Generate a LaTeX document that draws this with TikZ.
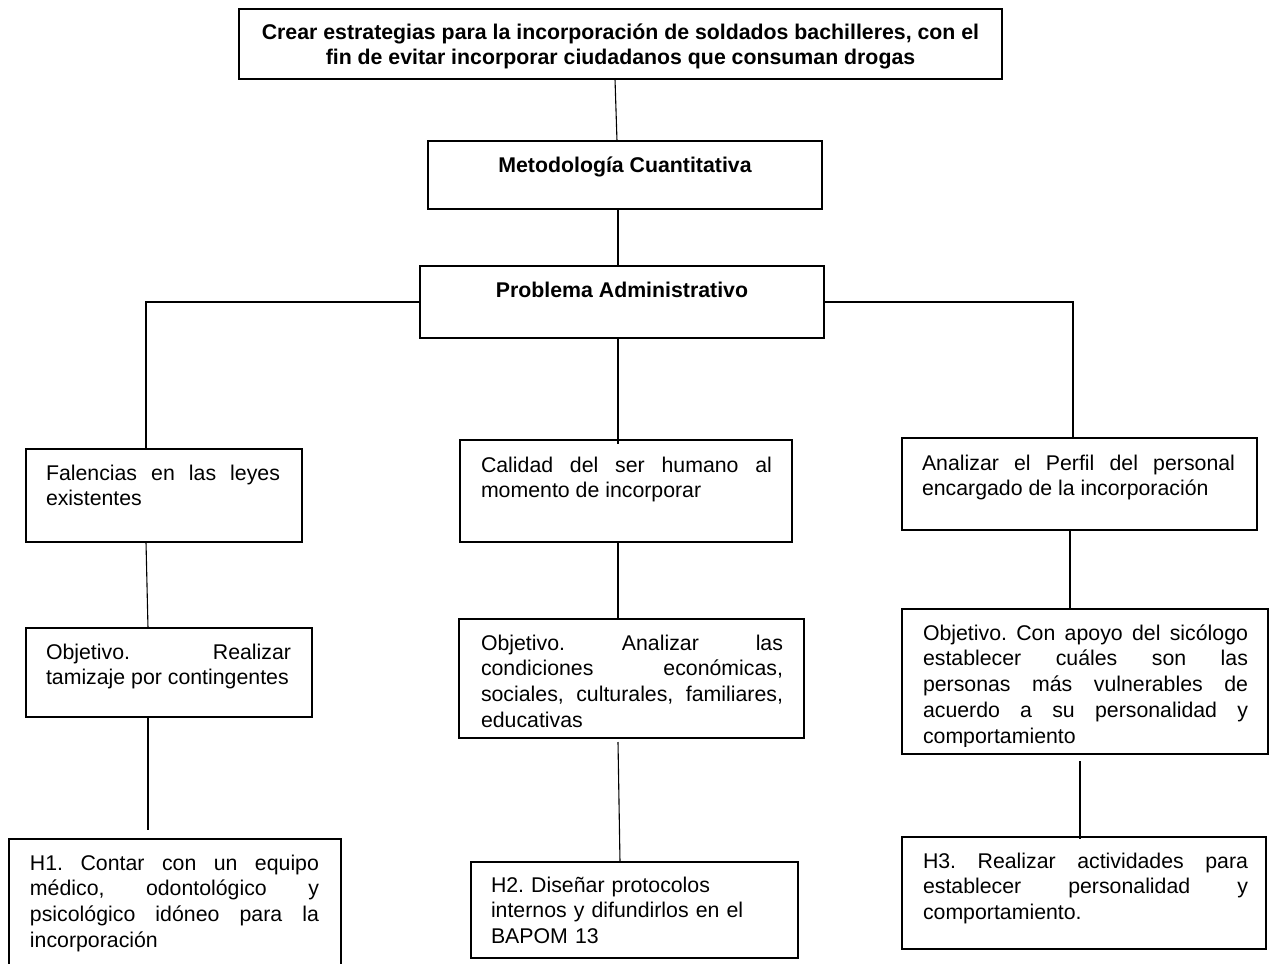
\documentclass[tikz,border=0pt]{standalone}
\usepackage{fontspec}
\setmainfont{Liberation Sans}[WordSpace={1,1,0}]
\hyphenpenalty=10000
\exhyphenpenalty=10000
\tolerance=10000
\hbadness=10000
\frenchspacing
\begin{document}
\begin{tikzpicture}[x=1pt,y=-1pt,
  box/.style={draw=black, line width=1.1pt, rectangle, inner sep=0pt, outer sep=0pt, fill=none},
  conn/.style={draw=black, line width=1.1pt},
  txt/.style={anchor=north west, inner sep=0pt, outer sep=0pt, text width=#1, align=justify,
    font=\fontsize{21.3}{25.8}\selectfont\frenchspacing},
  txtl/.style={anchor=north west, inner sep=0pt, outer sep=0pt, text width=#1, align=left,
    font=\fontsize{21.3}{25.8}\selectfont\frenchspacing},
  bold/.style={inner sep=0pt, outer sep=0pt, font=\fontsize{21.3}{25}\selectfont\bfseries}]
\useasboundingbox[fill=white] (0,0) rectangle (1270,964);
\clip (0,0) rectangle (1270,964);

% boxes
\node[box, minimum width=763pt, minimum height=70pt] (top) at (620.5,44) {};
\node[box, minimum width=394pt, minimum height=68pt] (meto) at (625,175) {};
\node[box, minimum width=404pt, minimum height=72pt] (prob) at (622,302) {};
\node[box, minimum width=276pt, minimum height=93pt] (fal) at (164,495.5) {};
\node[box, minimum width=332pt, minimum height=102pt] (cal) at (626,491) {};
\node[box, minimum width=355pt, minimum height=92pt] (ana) at (1079.5,484) {};
\node[box, minimum width=286pt, minimum height=89pt] (objL) at (169,672.5) {};
\node[box, minimum width=345pt, minimum height=119pt] (objC) at (631.5,678.5) {};
\node[box, minimum width=366pt, minimum height=145pt] (objR) at (1085,681.5) {};
\node[box, minimum width=332pt, minimum height=141pt] (hA) at (175,909.5) {};
\node[box, minimum width=327pt, minimum height=96pt] (hB) at (634.5,910) {};
\node[box, minimum width=364pt, minimum height=112pt] (hC) at (1084,893) {};

% texts
\node[bold, anchor=north, align=center] (ttop) at (620.5,22)
  {\strut Crear estrategias para la incorporación de soldados bachilleres, con el\\fin de evitar incorporar ciudadanos que consuman drogas};
\node[bold, anchor=base] (tmeto) at (625,172) {Metodología Cuantitativa};
\node[bold, anchor=base] (tprob) at (622,297) {Problema Administrativo};
\node[txt=234pt] (tfal) at (46,462) {\strut Falencias en las leyes\linebreak existentes};
\node[txt=291pt] (tcal) at (481,454) {\strut Calidad del ser humano al\linebreak momento de incorporar};
\node[txt=313pt] (tana) at (922,452) {\strut Analizar el Perfil del personal\linebreak encargado de la incorporación};
\node[txt=245pt] (tobjL) at (46,641) {\strut Objetivo. Realizar\linebreak tamizaje por contingentes};
\node[txt=302pt] (tobjC) at (481,632) {\strut Objetivo. Analizar las\linebreak condiciones económicas,\linebreak sociales, culturales, familiares,\linebreak educativas};
\begin{scope}
\clip (902,609) rectangle (1268,746);
\node[txt=325pt] (tobjR) at (923,622) {\strut Objetivo. Con apoyo del sicólogo\linebreak establecer cuáles son las\linebreak personas más vulnerables de\linebreak acuerdo a su personalidad y\linebreak comportamiento};
\end{scope}
\node[txt=289pt] (thA) at (30,852) {\strut H1. Contar con un equipo\linebreak médico, odontológico y\linebreak psicológico idóneo para la\linebreak incorporación};
\node[txtl=280pt] (thB) at (491,874) {\strut H2. Diseñar protocolos\\ internos y difundirlos en el\\ BAPOM 13};
\node[txt=325pt] (thC) at (923,850) {\strut H3. Realizar actividades para\linebreak establecer personalidad y\linebreak comportamiento.};

% connectors
\draw[conn] ([xshift=-5.5pt]top.south) -- ([xshift=-8pt]meto.north);
\draw[conn] ([xshift=-7pt]meto.south) -- ([xshift=-4pt]prob.north);
\draw[conn] (prob.west) -| ([xshift=-18pt]fal.north);
\draw[conn] (prob.east) -| ([xshift=-6.5pt]ana.north);
\draw[conn] ([xshift=-4pt]prob.south) -- ([xshift=-8pt,yshift=-4pt]cal.north);
\draw[conn] ([xshift=-18pt]fal.south) -- ([xshift=-21pt]objL.north);
\draw[conn] ([xshift=-8pt]cal.south) -- ([xshift=-13.5pt]objC.north);
\draw[conn] ([xshift=-9.5pt]ana.south) -- ([xshift=-15pt]objR.north);
\draw[conn] ([xshift=-21pt]objL.south) -- ([xshift=-27pt,yshift=9pt]hA.north);
\draw[conn] ([xshift=-13.5pt,yshift=-4pt]objC.south) -- ([xshift=-14.5pt]hB.north);
\draw[conn] ([xshift=-5pt,yshift=-7pt]objR.south) -- ([xshift=-4pt,yshift=-2pt]hC.north);
\end{tikzpicture}
\end{document}
